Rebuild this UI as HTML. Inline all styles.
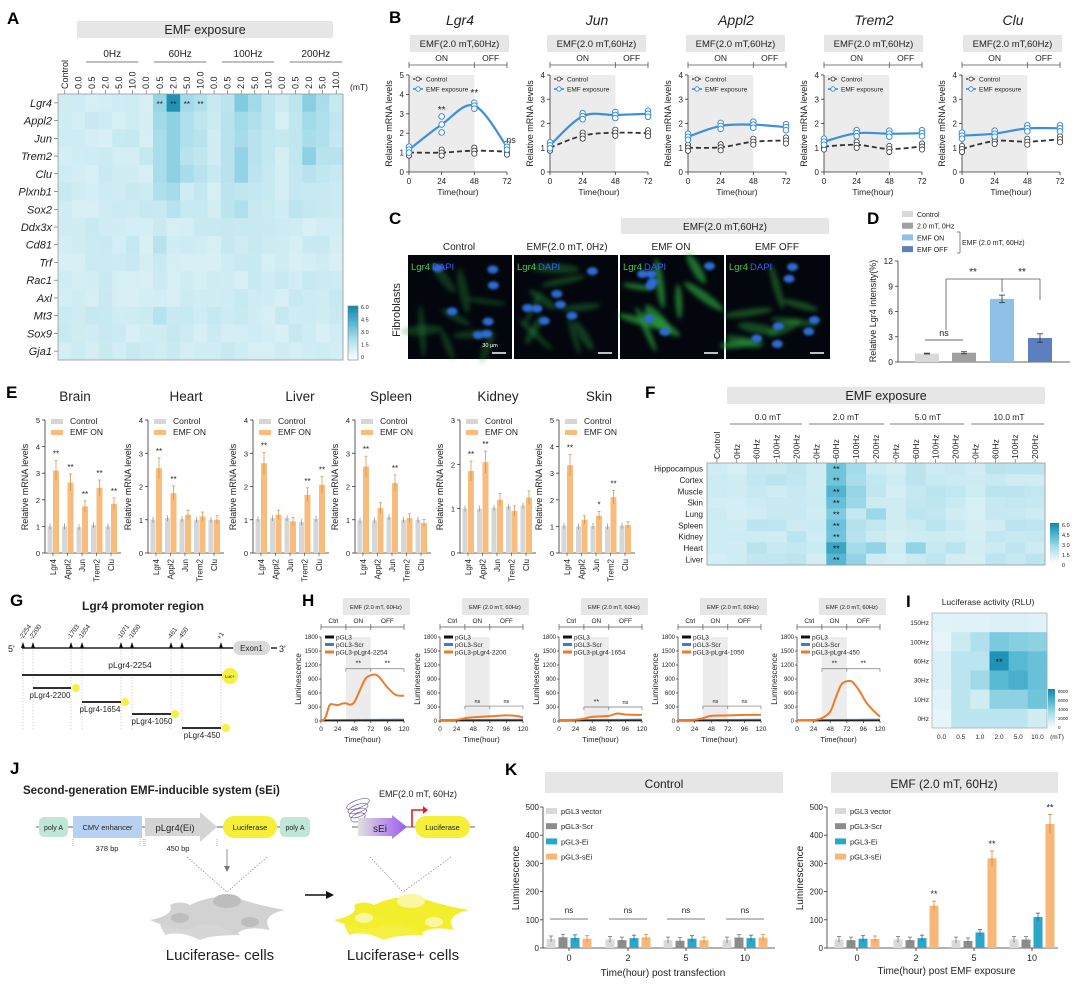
<!DOCTYPE html>
<html><head><meta charset="utf-8">
<style>
html,body{margin:0;padding:0;background:#fff;}
svg{display:block;font-family:"Liberation Sans",Arial,sans-serif;}
</style></head>
<body>
<svg id="s" width="1080" height="984" viewBox="0 0 1080 984" xmlns="http://www.w3.org/2000/svg">
<defs>
<filter id="bl" x="-50%" y="-50%" width="200%" height="200%"><feGaussianBlur stdDeviation="2"/></filter>
<filter id="bl2" x="-50%" y="-50%" width="200%" height="200%"><feGaussianBlur stdDeviation="1.2"/></filter>
<linearGradient id="sei" x1="0" x2="1"><stop offset="0" stop-color="#e0e0e0"/><stop offset="1" stop-color="#9b59f0"/></linearGradient>
</defs>
<g id="g"></g>
</svg>
<script>
var S=[];
function A(s){S.push(s);}
function T(x,y,s,o){o=o||{};var a='<text x="'+x+'" y="'+y+'" font-size="'+(o.sz||8)+'" fill="'+(o.f||'#222')+'" text-anchor="'+(o.a||'start')+'"';
 if(o.w)a+=' font-weight="'+o.w+'"'; if(o.it)a+=' font-style="italic"';
 if(o.r!==undefined)a+=' transform="rotate('+o.r+' '+x+' '+y+')"';
 A(a+'>'+s+'</text>');}
function L(x1,y1,x2,y2,c,w,d){A('<line x1="'+x1+'" y1="'+y1+'" x2="'+x2+'" y2="'+y2+'" stroke="'+(c||'#333')+'" stroke-width="'+(w||0.8)+'"'+(d?' stroke-dasharray="'+d+'"':'')+'/>');}
function R(x,y,w,h,f,ex){A('<rect x="'+x+'" y="'+y+'" width="'+w+'" height="'+h+'" fill="'+f+'" '+(ex||'')+'/>');}
function hex(c){return [parseInt(c.substr(1,2),16),parseInt(c.substr(3,2),16),parseInt(c.substr(5,2),16)];}
var stops=[[0,'#ffffff'],[1.2,'#d6eff5'],[2.5,'#a6dcea'],[4,'#5dbcd6'],[6,'#1189ad']];
function col(v){if(v<=0)return stops[0][1];for(var i=1;i<stops.length;i++){if(v<=stops[i][0]){var a=stops[i-1],b=stops[i],t=(v-a[0])/(b[0]-a[0]);var ca=hex(a[1]),cb=hex(b[1]);return 'rgb('+ca.map(function(q,k){return Math.round(q+(cb[k]-q)*t)}).join(',')+')';}}return stops[stops.length-1][1];}
var seed=7;function rnd(){seed=(seed*9301+49297)%233280;return seed/233280;}
function panel(l,x,y){T(x,y,l,{sz:17,w:'bold',f:'#000'});}

/* ---------- A ---------- */
panel('A',7,24);
R(77,21,256,17,'#e6e6e6');T(205,34,'EMF exposure',{sz:12.5,a:'middle'});
var ax0=58,ay0=94,cw=285/21,rh=266/15;
var grp=['0Hz','60Hz','100Hz','200Hz'];
for(var g=0;g<4;g++){var gx=ax0+(1+g*5)*cw;T(gx+3*cw,57,grp[g],{sz:10,a:'middle'});L(gx+cw+1,62,gx+5*cw-1,62,'#555',0.8);}
var cl=['Control'];for(g=0;g<4;g++)cl=cl.concat(['0.0','0.5','2.0','5.0','10.0']);
for(var c=0;c<21;c++){var cx=ax0+(c+0.5)*cw;T(cx+3,89,cl[c],{sz:9,a:'start',r:-90});L(cx,90,cx,94,'#555',0.6);}
T(350,90,'(mT)',{sz:8.5});
var genes=['Lgr4','Appl2','Jun','Trem2','Clu','Plxnb1','Sox2','Ddx3x','Cd81','Trf','Rac1','Axl','Mt3','Sox9','Gja1'];
var hi={0:{7:2.8,8:5.6,9:2.6,10:2.2,12:1.9,13:3.3,14:2.6,15:1.8,17:1.9,18:3.1,19:2.4,20:1.6},
1:{7:2.6,8:3.0,9:2.2,10:1.8,12:2.0,13:2.6,14:2.2,15:1.8,17:1.8,18:2.6,19:2.3,20:1.8},
2:{7:2.4,8:3.0,9:2.2,10:2.0,12:2.0,13:2.5,14:2.0,15:1.7,17:1.8,18:2.4,19:2.2,20:1.7},
3:{7:2.4,8:3.0,9:2.0,10:1.8,12:2.0,13:2.9,14:2.0,15:1.7,17:1.8,18:3.0,19:2.0,20:2.0},
4:{7:2.4,8:3.0,9:2.4,10:2.0,12:2.0,13:2.9,14:1.9,15:1.6,17:1.7,18:2.0,19:1.8,20:1.6},
5:{7:2.2,8:2.5,9:1.4,10:1.7,12:1.9,13:1.8,14:1.7,15:1.6,17:1.7,18:1.6,19:1.6,20:1.5},
6:{7:1.6,8:2.0,9:1.6,10:1.6,12:1.9,13:2.2,14:1.6,15:1.5,17:1.9,18:1.7,19:1.6,20:1.5},
8:{7:2.0},12:{7:2.1}};
for(var r=0;r<15;r++){var ry=ay0+r*rh;
 T(52,ry+rh/2+4,genes[r],{sz:11,it:1,a:'end'});L(54,ry+rh/2,58,ry+rh/2,'#555',0.6);
 for(c=0;c<21;c++){var v=(hi[r]&&hi[r][c])?hi[r][c]:1.15+rnd()*0.5;R((ax0+c*cw).toFixed(2),ry.toFixed(2),(cw+0.4).toFixed(2),(rh+0.4).toFixed(2),col(v));}}
R(ax0,ay0,285,266,'none','stroke="#999" stroke-width="0.8"');
[7,8,9,10].forEach(function(c){T(ax0+(c+0.5)*cw,ay0+rh/2+4,'**',{sz:8,a:'middle'});});
for(var i=0;i<40;i++){R(348,306+i*54/40,10,54/40+0.3,col(6-i*6/40));}
R(348,306,10,54,'none','stroke="#777" stroke-width="0.6"');
['6.0','4.5','3.0','1.5','0'].forEach(function(s,i){T(361,309+i*12.5,s,{sz:5.5});});

/* ---------- B ---------- */
panel('B',389,23);
var Bx=[409,550,688,824,962],Bt=['Lgr4','Jun','Appl2','Trem2','Clu'],Bbx=[410,547,686,824,963];
var Bc=[[1,1,1.1,1.05],[1,1.5,1.62,1.6],[1,1.02,1.25,1.3],[1.05,1.12,0.95,1.05],[0.95,1.28,1.25,1.35]];
var Be=[[1.15,2.45,3.42,1.3],[1.1,2.3,2.35,2.4],[1.45,1.9,1.95,1.85],[1.25,1.6,1.58,1.6],[1.5,1.58,1.8,1.8]];
function smooth(p){var d='M'+p[0][0]+','+p[0][1];for(var i=0;i<p.length-1;i++){var p0=p[i-1]||p[i],p1=p[i],p2=p[i+1],p3=p[i+2]||p2;
 d+=' C'+(p1[0]+(p2[0]-p0[0])/6).toFixed(1)+','+(p1[1]+(p2[1]-p0[1])/6).toFixed(1)+' '+(p2[0]-(p3[0]-p1[0])/6).toFixed(1)+','+(p2[1]-(p3[1]-p1[1])/6).toFixed(1)+' '+p2[0].toFixed(1)+','+p2[1].toFixed(1);}return d;}
for(var k=0;k<5;k++){var x0=Bx[k],w=98,yb=172,yt=75,ym=k==0?5:4;
 T(Bbx[k]+50,25,Bt[k],{sz:14,it:1,a:'middle'});
 R(Bbx[k],35,99,17,'#e6e6e6');T(Bbx[k]+49.5,47,'EMF(2.0 mT,60Hz)',{sz:9.5,a:'middle'});
 var x48=x0+w*48/72;
 L(x0,65,x0+w,65,'#555',0.8);[x0,x48,x0+w].forEach(function(q){L(q,62,q,68,'#555',0.8);});
 T((x0+x48)/2,61,'ON',{sz:8.5,a:'middle'});T((x48+x0+w)/2,61,'OFF',{sz:8.5,a:'middle'});
 R(x0,yt,x48-x0,yb-yt,'#ececec');
 L(x0,yt,x0,yb,'#333',0.8);L(x0,yb,x0+w,yb,'#333',0.8);
 for(var j=0;j<=ym;j++){var yy=yb-(yb-yt)*j/ym;L(x0-3,yy,x0,yy,'#333',0.8);T(x0-5,yy+3,j,{sz:8,a:'end'});}
 [0,24,48,72].forEach(function(t){var xx=x0+w*t/72;L(xx,yb,xx,yb+3,'#333',0.8);T(xx,yb+12,t,{sz:8,a:'middle'});});
 T(x0+w/2,yb+23,'Time(hour)',{sz:8.5,a:'middle'});
 T(x0-17,(yt+yb)/2,'Relative mRNA levels',{sz:9,a:'middle',r:-90});
 var pc=Bc[k].map(function(v,i){return [x0+w*i*24/72,yb-(yb-yt)*v/ym];}),pe=Be[k].map(function(v,i){return [x0+w*i*24/72,yb-(yb-yt)*v/ym];});
 A('<path d="'+smooth(pc)+'" fill="none" stroke="#333" stroke-width="1.8" stroke-dasharray="5,3"/>');
 A('<path d="'+smooth(pe)+'" fill="none" stroke="#3d8fd8" stroke-width="2.2"/>');
 pc.forEach(function(p){[-3,0,3].forEach(function(o){A('<circle cx="'+p[0]+'" cy="'+(p[1]+o)+'" r="2.6" fill="#fff" stroke="#333" stroke-width="0.8"/>');});});
 pe.forEach(function(p,i){var sp=(k==0&&i==1)?8:3;[-sp,0,sp].forEach(function(o){A('<circle cx="'+p[0]+'" cy="'+(p[1]+o)+'" r="2.8" fill="#fff" stroke="#3d8fd8" stroke-width="1"/>');});});
 L(x0+4,79,x0+14,79,'#333',1.2,'2,1.5');A('<circle cx="'+(x0+9)+'" cy="79" r="2" fill="#fff" stroke="#333" stroke-width="0.8"/>');T(x0+17,81.5,'Control',{sz:6.5});
 L(x0+4,89,x0+14,89,'#3d8fd8',1.6);A('<circle cx="'+(x0+9)+'" cy="89" r="2.2" fill="#fff" stroke="#3d8fd8" stroke-width="1"/>');T(x0+17,91.5,'EMF exposure',{sz:6.5});
}
T(409+98/3,113,'**',{sz:10,a:'middle'});T(409+98*2/3,96,'**',{sz:10,a:'middle'});T(511,143,'ns',{sz:9,a:'middle'});

/* ---------- C ---------- */
panel('C',389,224);
R(621,218,208,16,'#e6e6e6');T(725,230,'EMF(2.0 mT,60Hz)',{sz:10,a:'middle'});
[['Control',459],['EMF(2.0 mT, 0Hz)',567],['EMF ON',671],['EMF OFF',777]].forEach(function(p){T(p[1],250,p[0],{sz:10,a:'middle'});});
T(400,310,'Fibroblasts',{sz:11,a:'middle',r:-90});
var imX=[408,514,620,726],gint=[0.3,0.35,0.7,0.45];
imX.forEach(function(ix,q){R(ix,255,104,104,'#03070d');
 seed=31+q*17;
 A('<g filter="url(#bl)">');for(var i=0;i<9;i++){var cx=ix+12+rnd()*80,cy=265+rnd()*84;A('<ellipse cx="'+cx.toFixed(1)+'" cy="'+cy.toFixed(1)+'" rx="'+(14+rnd()*12).toFixed(1)+'" ry="'+(2.5+rnd()*3).toFixed(1)+'" transform="rotate('+(rnd()*180).toFixed(0)+' '+cx.toFixed(1)+' '+cy.toFixed(1)+')" fill="#2a9a3a" opacity="'+gint[q]+'"/>');}A('</g>');
 A('<g filter="url(#bl2)">');for(i=0;i<7;i++){var nx=ix+10+rnd()*84,ny=263+rnd()*88;A('<ellipse cx="'+nx.toFixed(1)+'" cy="'+ny.toFixed(1)+'" rx="5.5" ry="4" fill="#2f6ad0"/>');}A('</g>');
 T(ix+3,270,'Lgr4',{sz:9.5,f:'#3fcf40'});T(ix+24,270,'DAPI',{sz:9.5,f:'#3b5cf0'});
 L(ix+84,353,ix+98,353,'#fff',1.5);});
T(490,347,'30 μm',{sz:5.5,f:'#fff',a:'middle'});

/* ---------- D ---------- */
panel('D',867,224);
[['#d9d9d9','Control'],['#a0a0a0','2.0 mT, 0Hz'],['#8fc0e8','EMF ON'],['#5b7fbf','EMF OFF']].forEach(function(p,i){R(902,211+i*11.7,11,6,p[0]);T(917,217+i*11.7,p[1],{sz:7});});
L(957,232,960,232,'#333',0.6);L(960,232,960,253,'#333',0.6);L(957,253,960,253,'#333',0.6);T(962,245,'EMF (2.0 mT, 60Hz)',{sz:7});
var dy0=362,dyt=261;L(898,dyt,898,dy0,'#333',0.8);L(898,dy0,1070,dy0,'#333',0.8);
[0,3,6,9,12].forEach(function(v){var yy=dy0-(dy0-dyt)*v/12;L(895,yy,898,yy,'#333',0.8);T(893,yy+3,v,{sz:8.5,a:'end'});});
T(876,311,'Relative Lgr4 intensity(%)',{sz:9,a:'middle',r:-90});
[[915,1,'#d9d9d9',0.05],[952,1.1,'#a0a0a0',0.12],[990,7.5,'#8fc0e8',0.45],[1028,2.85,'#5b7fbf',0.5]].forEach(function(b){var yy=dy0-(dy0-dyt)*b[1]/12;R(b[0],yy,24,dy0-yy,b[2]);var e=(dy0-dyt)*b[3]/12;L(b[0]+12,yy-e,b[0]+12,yy+e,'#333',0.8);L(b[0]+9,yy-e,b[0]+15,yy-e,'#333',0.8);L(b[0]+9,yy+e,b[0]+15,yy+e,'#333',0.8);});
L(925,340,963,340,'#333',0.8);T(944,336,'ns',{sz:9,a:'middle'});
L(946,279,1040,279,'#555',0.8);L(946,279,946,330,'#555',0.8);L(1002,279,1002,292,'#555',0.8);L(1040,279,1040,300,'#555',0.8);
T(973,275,'**',{sz:10,a:'middle'});T(1022,275,'**',{sz:10,a:'middle'});

/* ---------- E ---------- */
panel('E',6,398);
var Ex=[45,148,253,355,460,559],Et=['Brain','Heart','Liver','Spleen','Kidney','Skin'],Etx=[75,186,300,391,498,599],Em=[5,4,4,4,3,5];
var Ev=[[3.1,2.65,1.75,2.45,1.85],[2.55,1.8,1.15,1.1,1.0],[2.7,1.15,0.95,1.75,2.05],[2.6,1.35,2.1,1.05,0.9],[1.85,2.05,1.2,0.95,1.25],[3.3,1.25,1.4,2.1,1.05]];
var Ecv=[[1,1,0.97,1.05,1],[1,1.05,1.02,1,1],[1.02,1.05,1.05,0.93,1.03],[0.98,0.98,1.08,1,1],[1,1,1.02,1.05,1.07],[1.03,1,1.02,1,1.03]];
var Es=[['**','**','**','**','**'],['**','**','','',''],['**','','','**','**'],['**','','**','',''],['**','**','','',''],['**','','*','**','']];
var gn=['Lgr4','Appl2','Jun','Trem2','Clu'];
for(k=0;k<6;k++){var x0=Ex[k],yb=553,yt=420,ym=Em[k];
 T(Etx[k],401,Et[k],{sz:13.5,a:'middle'});
 L(x0,yt,x0,yb,'#333',0.8);L(x0,yb,x0+76,yb,'#333',0.8);
 for(j=0;j<=ym;j++){var yy=yb-(yb-yt)*j/ym;L(x0-3,yy,x0,yy,'#333',0.8);T(x0-5,yy+3,j,{sz:7.5,a:'end'});}
 T(x0-17,487,'Relative mRNA levels',{sz:9,a:'middle',r:-90});
 R(x0+6,419,12,5,'#d6d6d6');T(x0+25,424,'Control',{sz:8.5});
 R(x0+6,430,12,5,'#f8bd7c');T(x0+25,435,'EMF ON',{sz:8.5});
 for(var i=0;i<5;i++){var gc=x0+8+i*14.5;
  var cv=Ecv[k][i],yc=yb-(yb-yt)*cv/ym;R(gc-5.5,yc,5,yb-yc,'#d6d6d6');L(gc-3,yc-3,gc-3,yc+3,'#777',0.6);
  var ev=Ev[k][i],ye=yb-(yb-yt)*ev/ym;R(gc,ye,6,yb-ye,'#f8bd7c');var er=(yb-yt)*0.18*ev/ym/1.5;L(gc+3,ye-er,gc+3,ye+er,'#d58a3a',0.7);L(gc+1.5,ye-er,gc+4.5,ye-er,'#d58a3a',0.7);
  if(Es[k][i])T(gc+3,ye-er-4,Es[k][i],{sz:8,a:'middle'});
  L(gc,yb,gc,yb+3,'#333',0.6);T(gc+3,yb+6,gn[i],{sz:8,a:'end',r:-90});}
}

/* ---------- F ---------- */
panel('F',645,398);
R(727,387,318,17,'#e6e6e6');T(886,400,'EMF exposure',{sz:12.5,a:'middle'});
var fx0=707,fy0=463,fcw=338/17,frh=102/9;
[['0.0 mT',768,730,802],['2.0 mT',846,809,884],['5.0 mT',928,890,964],['10.0 mT',1009,971,1044]].forEach(function(p){T(p[1],420,p[0],{sz:8.5,a:'middle'});L(p[2],424,p[3],424,'#555',0.8);});
var fcl=['Control'];for(g=0;g<4;g++)fcl=fcl.concat(['0Hz','60Hz','100Hz','200Hz']);
fcl.forEach(function(s,c){var cx=fx0+(c+0.5)*fcw;T(cx+3,459,s,{sz:8.5,a:'start',r:-90});L(cx,459,cx,463,'#555',0.6);});
var tis=['Hippocampus','Cortex','Muscle','Skin','Lung','Spleen','Kidney','Heart','Liver'];
seed=99;
var fcol6=[3.6,3.6,4.3,3.8,3.3,3.7,3.6,4.9,4.2],fcol7=[2.6,2.4,2.8,2.7,1.7,2.1,2.0,2.5,2.9];
for(r=0;r<9;r++){var ry=fy0+r*frh;T(703,ry+frh/2+3,tis[r],{sz:8,a:'end'});
 for(c=0;c<17;c++){var v=1.3+rnd()*0.7;if(c==6)v=fcol6[r];if(c==7)v=fcol7[r];if(c==0||c==1||c==5||c==9||c==13)v=1.2+rnd()*0.3;if(r==7&&(c==8||c==10))v=2.9;if(r==4&&c==8)v=2.7;
  R((fx0+c*fcw).toFixed(2),ry.toFixed(2),(fcw+0.4).toFixed(2),(frh+0.4).toFixed(2),col(v));}
 T(fx0+6.5*fcw,ry+frh/2+3.5,'**',{sz:8.5,a:'middle',f:'#111'});}
R(fx0,fy0,338,102,'none','stroke="#999" stroke-width="0.8"');
for(i=0;i<40;i++){R(1050,523+i*40/40,9,1.3,col(6-i*6/40));}
['6.0','4.5','3.0','1.5','0'].forEach(function(s,i){T(1062,527+i*10,s,{sz:5.5});});

/* ---------- G ---------- */
panel('G',10,606);
T(143,610,'Lgr4 promoter region',{sz:12,w:'bold',a:'middle'});
T(8,652,"5'",{sz:9});L(22,648,233,648,'#222',1.5);
A('<rect x="233" y="641" width="37" height="14" rx="7" fill="#d9d9d9"/>');T(251.5,651,'Exon1',{sz:8,a:'middle'});L(271,648,277,648,'#222',1.5);T(279,652,"3'",{sz:9});
var gt=[[23,'-2254'],[33,'-2200'],[71,'-1703'],[82,'-1654'],[121,'-1071'],[132,'-1050'],[171,'-461'],[182,'-450'],[221,'+1']];
gt.forEach(function(p){A('<path d="M'+(p[0]-2)+',648 L'+p[0]+',642 L'+(p[0]+2)+',648Z" fill="#111"/>');T(p[0]-1,640,p[1],{sz:6.5,r:-55});});
[23,33,71,82,121,132,171,182,221].forEach(function(x){L(x,650,x,730,'#bbb',0.6,'1.5,1.5');});
L(22,675,222,675,'#111',1.8);T(130,668,'pLgr4-2254',{sz:8.5,a:'middle'});
A('<circle cx="230" cy="676" r="8" fill="#f7f040"/>');T(230,678,'Luc+',{sz:4.5,a:'middle'});
[[688,33,71,76,50,698,'pLgr4-2200'],[702,82,121,125,100,712,'pLgr4-1654'],[714,132,171,175,152,724,'pLgr4-1050'],[728,182,221,226,202,738,'pLgr4-450']].forEach(function(p){L(p[1],p[0],p[2],p[0],'#111',1.8);A('<circle cx="'+p[3]+'" cy="'+p[0]+'" r="4" fill="#f7f040"/>');T(p[4],p[5],p[6],{sz:8,a:'middle'});});

/* ---------- H ---------- */
panel('H',302,606);
var Hx=[321,440,559,678,797],Hn=['2254','2200','1654','1050','450'];
var curves=[
[[0,0],[6,60],[12,330],[16,360],[24,340],[30,370],[36,380],[42,350],[48,400],[56,650],[64,900],[72,980],[82,970],[96,720],[108,560],[120,540]],
[[0,20],[24,25],[36,60],[48,80],[72,100],[96,120],[110,110],[120,80]],
[[0,20],[24,25],[36,50],[48,90],[72,110],[84,160],[96,140],[120,130]],
[[0,20],[24,25],[36,60],[48,110],[72,120],[96,130],[120,130]],
[[0,10],[24,20],[36,60],[48,200],[56,500],[64,780],[72,850],[80,840],[90,650],[100,400],[112,200],[120,90]]];
var brk=[['**','**',1120],['ns','ns',320],['**','ns',300],['ns','ns',320],['**','**',1120]];
for(k=0;k<5;k++){var x0=Hx[k],w=83,yb=721,yt=637;function hy(v){return yb-(yb-yt)*v/1800;}function hx(t){return x0+w*t/120;}
 R(hx(36)-3,598,67,17,'#e6e6e6');T(hx(36)+30,609,'EMF (2.0 mT, 60Hz)',{sz:5.8,a:'middle'});
 L(x0,627,x0+w,627,'#555',0.7);[0,36,72,120].forEach(function(t){L(hx(t),624,hx(t),630,'#555',0.7);});
 T(hx(18),623,'Ctrl',{sz:6.5,a:'middle'});T(hx(54),623,'ON',{sz:6.5,a:'middle'});T(hx(96),623,'OFF',{sz:6.5,a:'middle'});
 R(hx(36),yt,hx(72)-hx(36),yb-yt,'#ececec');
 L(x0,yt,x0,yb,'#333',0.7);L(x0,yb,x0+w,yb,'#333',0.7);
 [0,300,600,900,1200,1500,1800].forEach(function(v){L(x0-2,hy(v),x0,hy(v),'#333',0.7);T(x0-3,hy(v)+2,v,{sz:6,a:'end'});});
 [0,24,48,72,96,120].forEach(function(t){L(hx(t),yb,hx(t),yb+2,'#333',0.7);T(hx(t),yb+10,t,{sz:6.5,a:'middle'});});
 T(x0+w/2,yb+21,'Time(hour)',{sz:7.5,a:'middle'});
 T(x0-20,(yt+yb)/2,'Luminescence',{sz:8,a:'middle',r:-90});
 var pts=curves[k].map(function(p){return [hx(p[0]),hy(p[1])];});
 L(x0,hy(15),x0+w,hy(25),'#3a7dc9',2.2);L(x0,hy(8),x0+w,hy(12),'#222',1.2);
 A('<path d="'+smooth(pts)+'" fill="none" stroke="#ee7a2a" stroke-width="2"/>');
 L(x0+4,637,x0+13,637,'#111',3);T(x0+15,639.5,'pGL3',{sz:6.5});
 L(x0+4,644.5,x0+13,644.5,'#3a7dc9',3);T(x0+15,647,'pGL3-Scr',{sz:6.5});
 L(x0+4,652,x0+13,652,'#ee7a2a',3);T(x0+15,654.5,'pGL3-pLgr4-'+Hn[k],{sz:6.5});
 var by=hy(brk[k][2]);L(hx(36),by,hx(120),by,'#777',0.7);[36,72,120].forEach(function(t){L(hx(t),by,hx(t),by+3,'#777',0.7);});
 T(hx(54),by-3,brk[k][0],{sz:brk[k][0]=='ns'?5.5:7,a:'middle'});T(hx(96),by-3,brk[k][1],{sz:brk[k][1]=='ns'?5.5:7,a:'middle'});
}

/* ---------- I ---------- */
panel('I',906,607);
T(988,605,'Luciferase activity (RLU)',{sz:8.5,a:'middle'});
var Iv=[[1200,1300,1300,1400,1400,1300],[1000,2000,3000,4500,4200,4000],[1500,2600,2600,7500,5500,5000],[1500,2500,3500,5500,6000,5000],[1200,2500,1800,4000,4000,4800],[1000,2500,2500,2500,2500,1800]];
var irow=['150Hz','100Hz','60Hz','30Hz','10Hz','0Hz'],icol=['0.0','0.5','1.0','2.0','5.0','10.0'],ic=115/6;
for(r=0;r<6;r++){T(929,613+(r+0.5)*ic+2.5,irow[r],{sz:6.5,a:'end'});for(c=0;c<6;c++)R((932+c*ic).toFixed(2),(613+r*ic).toFixed(2),(ic+0.4).toFixed(2),(ic+0.4).toFixed(2),col(Iv[r][c]*6/8000));}
R(932,613,115,115,'none','stroke="#aaa" stroke-width="0.7"');
T(932+3.5*ic,613+2.5*ic+4,'**',{sz:9,a:'middle',f:'#111'});
icol.forEach(function(s,c){T(932+(c+0.5)*ic,739,s,{sz:6.5,a:'middle'});});T(1057,739,'(mT)',{sz:6.5,a:'middle'});
for(i=0;i<40;i++)R(1048,689+i,7,1.3,col(6-i*6/40));
['8000','6000','4000','2000','0'].forEach(function(s,i){T(1058,693+i*9,s,{sz:4.5});});

/* ---------- J ---------- */
panel('J',10,774);
T(23,794,'Second-generation EMF-inducible system (sEi)',{sz:11.5,w:'bold'});
L(36,827,310,827,'#333',0.8);
A('<rect x="39" y="817" width="29" height="20" rx="5" fill="#bfe6d6"/>');T(53.5,830,'poly A',{sz:7,a:'middle'});
R(73,816,69,22,'#b8d1f0');T(107.5,830,'CMV enhancer',{sz:7.5,a:'middle'});
A('<path d="M145,818 L200,818 L200,812 L217,827 L200,842 L200,836 L145,836Z" fill="#d4d4d4"/>');T(175,831,'pLgr4(Ei)',{sz:9.5,a:'middle'});
A('<rect x="223" y="816" width="54" height="22" rx="11" fill="#f5ef3a"/>');T(250,830,'Luciferase',{sz:7.5,a:'middle'});
A('<rect x="280" y="817" width="30" height="20" rx="5" fill="#bfe6d6"/>');T(295,830,'poly A',{sz:7,a:'middle'});
[73,140,143,145,217].forEach(function(x){L(x,839,x,846,'#777',0.6,'1,1');});
T(107,851,'378 bp',{sz:7.5,a:'middle'});T(178,851,'450 bp',{sz:7.5,a:'middle'});
L(227,849,227,868,'#777',0.8);A('<path d="M224,866 L227,872 L230,866Z" fill="#777"/>');
L(187,857,227,892,'#777',0.6,'1.5,1.5');L(267,857,227,892,'#777',0.6,'1.5,1.5');
function cells(ox,fill,nuc){A('<g transform="translate('+ox+',0)">');
 A('<path d="M190,905 Q210,895 235,897 Q255,905 285,910 Q260,915 270,930 Q245,925 235,935 Q220,922 200,925 Q185,935 150,920 Q175,915 170,905 Q180,900 190,905Z" fill="'+fill+'"/>');
 A('<path d="M160,925 Q180,912 200,918 Q230,920 240,935 Q210,935 200,940 Q180,930 165,935Z" fill="'+fill+'" opacity="0.9"/>');
 A('<ellipse cx="227" cy="901" rx="14" ry="7" fill="'+nuc+'"/><ellipse cx="180" cy="918" rx="9" ry="5" fill="'+nuc+'"/><ellipse cx="250" cy="922" rx="9" ry="5" fill="'+nuc+'"/>');A('</g>');}
cells(0,'#d2d2d2','#bdbdbd');cells(184,'#f3ee2c','#fbf6a0');
T(220,960,'Luciferase-  cells',{sz:15,a:'middle'});T(403,960,'Luciferase+ cells',{sz:15,a:'middle'});
L(305,895,328,895,'#111',1.6);A('<path d="M326,891 L334,895 L326,899Z" fill="#111"/>');
T(418,797,'EMF(2.0 mT, 60Hz)',{sz:9,a:'middle'});
for(i=0;i<4;i++)A('<ellipse cx="358" cy="'+(804+i*4.5)+'" rx="'+(12-i*1.5)+'" ry="4" transform="rotate(-20 358 '+(804+i*4.5)+')" fill="none" stroke="#7a5fb0" stroke-width="0.7"/>');
L(352,827,475,827,'#333',0.8);
A('<path d="M358,818 L392,818 L392,815 L407,827 L392,839 L392,836 L358,836Z" fill="url(#sei)"/>');T(380,832,'sEi',{sz:10,a:'middle'});
A('<path d="M412,827 L412,810 L424,810" fill="none" stroke="#e02020" stroke-width="1.6"/><path d="M423,806 L428,810 L423,814Z" fill="#e02020"/>');
A('<rect x="415" y="816" width="55" height="22" rx="11" fill="#f5ef3a"/>');T(442.5,830,'Luciferase',{sz:7.5,a:'middle'});
L(370,857,403,892,'#777',0.6,'1.5,1.5');L(451,857,403,892,'#777',0.6,'1.5,1.5');

/* ---------- K ---------- */
panel('K',505,775);
R(545,772,238,21,'#e6e6e6');T(664,788,'Control',{sz:12,a:'middle'});
R(831,772,227,21,'#e6e6e6');T(944,788,'EMF (2.0 mT, 60Hz)',{sz:12,a:'middle'});
var kc=['#d9d9d9','#8c8c8c','#2aa6c8','#f6b778'],kl=['pGL3 vector','pGL3-Scr','pGL3-Ei','pGL3-sEi'];
function kplot(x0,x1,gx,data,xl,lx,star){var yb=948,yt=807;function ky(v){return yb-(yb-yt)*v/500;}
 L(x0,yt,x0,yb,'#333',0.8);L(x0,yb,x1,yb,'#333',0.8);
 [0,100,200,300,400,500].forEach(function(v){L(x0-3,ky(v),x0,ky(v),'#333',0.8);T(x0-4,ky(v)+3,v,{sz:8,a:'end'});});
 T(x0-24,878,'Luminescence',{sz:10,a:'middle',r:-90});
 kc.forEach(function(c,i){R(lx,ky(500)+1+i*15.2,11,6,c);T(lx+15,ky(500)+7+i*15.2,kl[i],{sz:7.5});});
 gx.forEach(function(g,gi){[-18,-6,6,18].forEach(function(o,bi){var v=data[gi][bi],y=ky(v);R(g+o-4.5,y,9,yb-y,kc[bi]);var e=Math.max(3,(yb-yt)*v*0.06/500+2);var ec=bi==2?'#1d6f9a':(bi==3?'#d58a3a':'#777');L(g+o,y-e,g+o,y+e,ec,0.8);L(g+o-2,y-e,g+o+2,y-e,ec,0.8);});
  L(g,yb,g,yb+3,'#333',0.8);T(g,yb+13,['0','2','5','10'][gi],{sz:9,a:'middle'});
  if(star){if(gi>0){var v=data[gi][3];var y=ky(v)-((yb-yt)*v*0.06/500+2);T(g+18,y-4,'**',{sz:9,a:'middle'});}}
  else{L(g-19,919,g+19,919,'#999',1.2);T(g,913,'ns',{sz:8,a:'middle'});}});
 T((x0+x1)/2+4,lx>800?974:976,xl,{sz:10,a:'middle'});}
kplot(543,775,[569,628,686,745],[[32,38,36,33],[30,28,35,38],[28,26,33,28],[28,37,35,37]],'Time(hour) post transfection',546,false);
kplot(827,1058,[857,916,974,1032],[[30,28,33,32],[30,28,35,150],[28,25,55,318],[30,30,110,440]],'Time(hour) post EMF exposure',835,true);

document.getElementById('g').innerHTML=S.join('');
</script>
</body></html>
